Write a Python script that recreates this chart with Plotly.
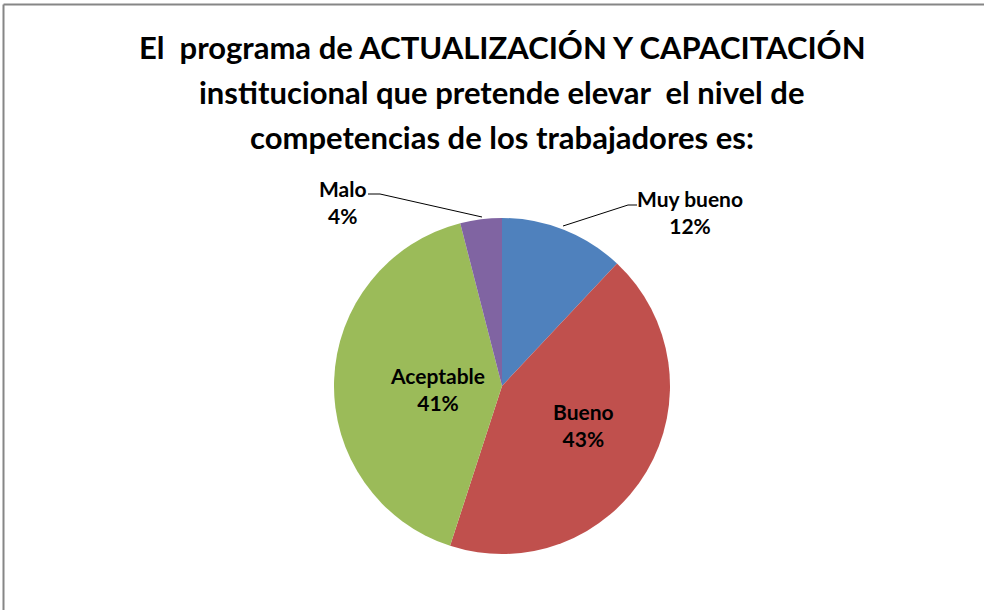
import plotly.graph_objects as go

W, H = 984, 610

categories = ["Muy bueno", "Bueno", "Aceptable", "Malo"]
values = [12, 43, 41, 4]
colors = ["#4F81BD", "#C0504D", "#9BBB59", "#8064A2"]
title_lines = [
    "El  programa de ACTUALIZACIÓN Y CAPACITACIÓN",
    "institucional que pretende elevar  el nivel de",
    "competencias de los trabajadores es:",
]

FONT = "Lato"

def px(x):
    return x / W

def py(y):
    return 1 - y / H

# pie geometry (pixels)
cx, cy, r = 502, 386, 168

fig = go.Figure(go.Pie(
    labels=categories,
    values=values,
    marker=dict(colors=colors, line=dict(width=0)),
    sort=False,
    direction="clockwise",
    rotation=0,
    textinfo="none",
    hoverinfo="label+percent",
    domain=dict(x=[px(cx - r), px(cx + r)], y=[py(cy + r), py(cy - r)]),
    showlegend=False,
))

total = sum(values)
label_pos = {
    "Muy bueno": (690, 212),
    "Bueno": (583, 425),
    "Aceptable": (437, 389),
    "Malo": (343, 202),
}
annotations = []
for cat, v in zip(categories, values):
    x, y = label_pos[cat]
    annotations.append(dict(
        x=px(x), y=py(y), xref="paper", yref="paper",
        text=f"<b>{cat}<br>{round(v / total * 100)}%</b>",
        showarrow=False, xanchor="center", yanchor="middle",
        font=dict(family=FONT, size=21, color="#000000"),
        align="center",
    ))

title_y = [47, 92, 137]
for line, y in zip(title_lines, title_y):
    annotations.append(dict(
        x=px(502), y=py(y), xref="paper", yref="paper",
        text=f"<b>{line}</b>", showarrow=False,
        xanchor="center", yanchor="middle",
        font=dict(family=FONT, size=31, color="#000000"),
    ))

def path(points):
    s = "M " + " L ".join(f"{px(x)},{py(y)}" for x, y in points)
    return s

shapes = [
    # leader lines
    dict(type="path", xref="paper", yref="paper",
         path=path([(368, 194), (380, 194), (482, 217)]),
         line=dict(color="#000000", width=1)),
    dict(type="path", xref="paper", yref="paper",
         path=path([(563, 226), (628, 205), (637, 205)]),
         line=dict(color="#000000", width=1)),
    # chart border (top and left)
    dict(type="line", xref="paper", yref="paper",
         x0=px(3.5), y0=py(4.5), x1=1, y1=py(4.5),
         line=dict(color="#868686", width=2)),
    dict(type="line", xref="paper", yref="paper",
         x0=px(3.5), y0=py(4.5), x1=px(3.5), y1=0,
         line=dict(color="#868686", width=2)),
]

fig.update_layout(
    width=W, height=H,
    margin=dict(l=0, r=0, t=0, b=0),
    paper_bgcolor="#FFFFFF",
    plot_bgcolor="#FFFFFF",
    annotations=annotations,
    shapes=shapes,
)

fig.write_html(
    "out.html",
    config={"displayModeBar": False},
    post_script="document.body.style.margin='0';document.body.style.overflow='hidden';",
)
